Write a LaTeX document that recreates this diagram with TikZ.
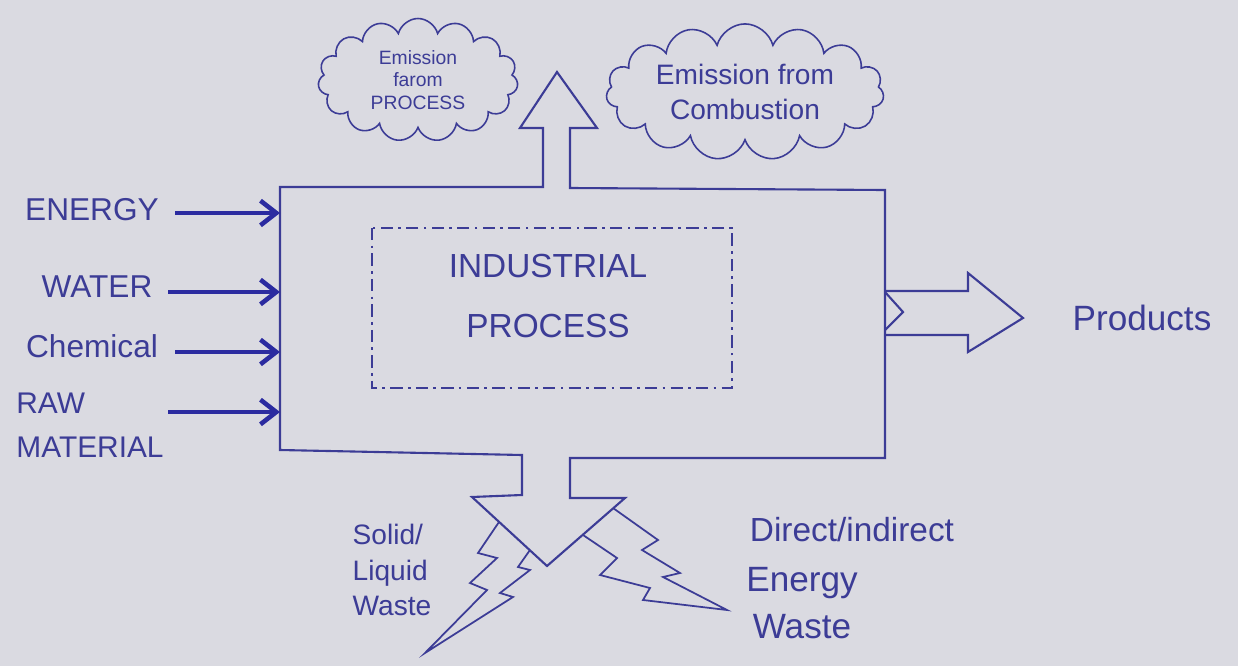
\documentclass[tikz,border=0pt]{standalone}
\usepackage{fontspec}
\setmainfont{Liberation Sans}
\usetikzlibrary{arrows.meta,shapes.symbols}
\definecolor{paper}{HTML}{DADAE1}
\definecolor{ink}{HTML}{3C3C96}
\definecolor{inkdark}{HTML}{2B2BA0}

\begin{document}
\begin{tikzpicture}[x=0.02cm,y=-0.02cm,
  lbl/.style={text=ink,align=left,font=\fontsize{18}{22}\selectfont},
  puff/.style={cloud,cloud puffs=15,cloud ignores aspect,draw=ink,
    line width=0.9pt,align=center,text=ink},
  outline/.style={draw=ink,line width=1.2pt,line join=miter},
  inarr/.style={-{Straight Barb[length=9pt,width=14pt]},draw=inkdark,line width=2.6pt}]

  \fill[paper] (0,0) rectangle (1238,666);

  % emissions
  \node[puff,minimum width=4cm,minimum height=2.3cm,
    font=\fontsize{11}{13}\selectfont] (procem) at (418,80) {Emission\\farom\\PROCESS};
  \node[puff,minimum width=5.36cm,minimum height=2.36cm,
    font=\fontsize{16}{20}\selectfont] (combem) at (745,92) {Emission from\\Combustion};

  % main box with outlet arrow and waste notch
  \draw[outline] (543,187) -- (280,187) -- (280,450) -- (522,455) -- (522,495)
    -- (472,497) -- (547,566) -- (625,498) -- (570,498) -- (570,458) -- (885,458)
    -- (885,190) -- (570,188) -- (570,128) -- (597,128) -- (557,72) -- (520,128)
    -- (543,128) -- cycle;
  \draw[ink,line width=0.8pt,dash pattern=on 7pt off 3pt on 1.5pt off 3pt]
    (372,228) rectangle (732,388);
  \node[lbl,align=center,font=\fontsize{19}{34}\selectfont] (proc) at (548,296) {INDUSTRIAL\\PROCESS};

  % inputs
  \node[lbl] (energy) at (92,210) {ENERGY};
  \node[lbl] (water) at (97,287) {WATER};
  \node[lbl] (chem) at (92,346) {Chemical};
  \node[lbl,font=\fontsize{17}{25}\selectfont] (raw) at (90,425) {RAW\\MATERIAL};
  \coordinate (energyout) at (175,213);
  \coordinate (waterout) at (168,292);
  \coordinate (chemout) at (175,352);
  \coordinate (rawout) at (168,412);
  \coordinate (energyin) at (280,213);
  \coordinate (waterin) at (280,292);
  \coordinate (chemin) at (280,352);
  \coordinate (rawin) at (280,412);
  \draw[inarr] (energyout) -- (energyin);
  \draw[inarr] (waterout) -- (waterin);
  \draw[inarr] (chemout) -- (chemin);
  \draw[inarr] (rawout) -- (rawin);

  % products
  \draw[outline] (885,292) -- (903,312) -- (885,330);
  \draw[outline] (885,291) -- (968,291) -- (968,273) -- (1023,318) -- (968,352)
    -- (968,335) -- (885,335);
  \node[lbl,font=\fontsize{20}{22}\selectfont] (prod) at (1142,318) {Products};

  % waste bolts
  \draw[outline,line width=1pt] (499,522) -- (478,553) -- (497,558) -- (470,583) -- (487,590)
    -- (425,653) -- (513,597) -- (500,593) -- (530,570) -- (518,567) -- (530,550);
  \draw[outline,line width=1pt] (613,508) -- (658,540) -- (642,550) -- (680,573) -- (663,577)
    -- (727,610) -- (643,600) -- (650,588) -- (600,575) -- (617,558) -- (583,535);
  \node[lbl,font=\fontsize{16}{20}\selectfont] (solid) at (392,570) {Solid/\\Liquid\\Waste};
  \node[lbl,font=\fontsize{19}{22}\selectfont] (direct) at (852,530) {Direct/indirect};
  \node[lbl,align=center,font=\fontsize{20}{27}\selectfont] (enwaste) at (802,603) {Energy\\Waste};
\end{tikzpicture}
\end{document}
